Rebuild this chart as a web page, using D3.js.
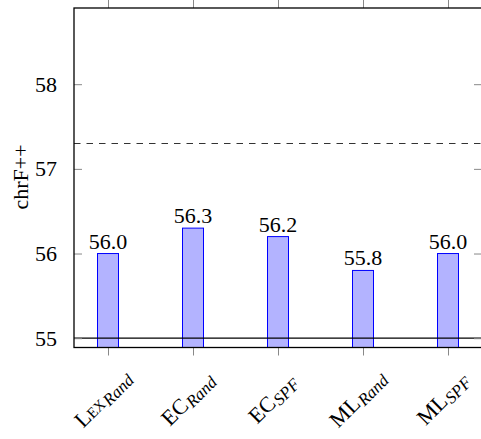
<!DOCTYPE html>
<html><head><meta charset="utf-8">
<script src="https://cdn.jsdelivr.net/npm/d3@7"></script>
<style>
html,body{margin:0;padding:0;background:#fff;overflow:hidden}
</style></head>
<body><svg id="c" width="481" height="439"></svg>
<script>
const labelBase = ["Lex", "EC", "EC", "ML", "ML"];
const labelSub = ["Rand", "Rand", "SPF", "Rand", "SPF"];
const values = [56.0, 56.3, 56.2, 55.8, 56.0];
const yTicks = [55, 56, 57, 58];
const refDashed = 57.3;
const refSolid = 55;
const yLabel = "chrF++";

const FONT = '"Liberation Serif"';
const svg = d3.select("#c");
const L = 74, R = 482, T = 8, B = 347.5;
const x = d3.scalePoint().domain(d3.range(values.length)).range([L, R]).padding(0.4);
const y = d3.scaleLinear().domain([54.89, 58.9]).range([B, T]);
const barW = 21;

// bars
svg.append("g").selectAll("rect").data(values).join("rect")
  .attr("x", (d, i) => x(i) - barW / 2)
  .attr("width", barW)
  .attr("y", d => y(d))
  .attr("height", d => B - y(d))
  .attr("fill", "#b3b3ff")
  .attr("stroke", "#0000ff")
  .attr("stroke-width", 1);

// value labels
svg.append("g").selectAll("text").data(values).join("text")
  .attr("x", (d, i) => x(i))
  .attr("y", d => y(d) - 5)
  .attr("text-anchor", "middle")
  .style("font-family", FONT).style("font-size", "22px")
  .text(d => d.toFixed(1));

// reference lines
svg.append("line").attr("x1", L).attr("x2", R)
  .attr("y1", y(refSolid)).attr("y2", y(refSolid))
  .attr("stroke", "#000").attr("stroke-width", 1.2);
svg.append("line").attr("x1", L).attr("x2", R)
  .attr("y1", y(refDashed)).attr("y2", y(refDashed))
  .attr("stroke", "#333").attr("stroke-width", 1.1)
  .attr("stroke-dasharray", "6.5,6");

// y axis ticks (inward, both sides)
const yAxisL = d3.axisLeft(y).tickValues(yTicks).tickSizeInner(-8).tickSizeOuter(0).tickPadding(17).tickFormat(d3.format("d"));
const gL = svg.append("g").attr("transform", `translate(${L},0)`).call(yAxisL);
gL.select(".domain").remove();
gL.selectAll(".tick line").attr("stroke", "#888");
gL.selectAll(".tick text").style("font-family", FONT).style("font-size", "22px").attr("fill", "#000");

const yAxisR = d3.axisRight(y).tickValues(yTicks).tickSizeInner(-8).tickSizeOuter(0).tickFormat("");
const gR = svg.append("g").attr("transform", `translate(${R},0)`).call(yAxisR);
gR.select(".domain").remove();
gR.selectAll(".tick line").attr("stroke", "#888");

// x axis ticks (outward, top and bottom)
const xAxisB = d3.axisBottom(x).tickSizeInner(8).tickSizeOuter(0).tickFormat("");
const gB = svg.append("g").attr("transform", `translate(0,${B})`).call(xAxisB);
gB.select(".domain").remove();
gB.selectAll(".tick line").attr("stroke", "#888");
const xAxisT = d3.axisTop(x).tickSizeInner(8).tickSizeOuter(0).tickFormat("");
const gT = svg.append("g").attr("transform", `translate(0,${T})`).call(xAxisT);
gT.select(".domain").remove();
gT.selectAll(".tick line").attr("stroke", "#888");

// frame
svg.append("rect").attr("x", L).attr("y", T).attr("width", R - L).attr("height", B - T)
  .attr("fill", "none").attr("stroke", "#000").attr("stroke-width", 1.3);

// x labels
const xl = svg.append("g").selectAll("text").data(labelBase).join("text")
  .attr("transform", (d, i) => `translate(${x(i)},404) rotate(-45)`)
  .attr("text-anchor", "middle")
  .style("font-family", FONT);
xl.append("tspan").style("font-size", "22px")
  .style("font-variant", d => d === "Lex" ? "small-caps" : "normal")
  .text(d => d);
xl.append("tspan").style("font-size", "17px").style("font-style", "italic").attr("dy", 3).attr("dx", 1)
  .text((d, i) => labelSub[i]);

// y label
svg.append("text").attr("transform", "translate(28,177) rotate(-90)")
  .attr("text-anchor", "middle").style("font-family", FONT).style("font-size", "22px").text(yLabel);
</script></body></html>
